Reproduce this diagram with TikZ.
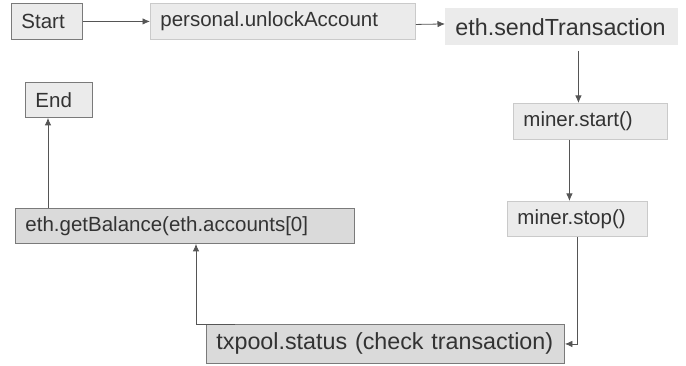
\documentclass[tikz,border=0pt]{standalone}
\usepackage{fontspec}
\setmainfont{Liberation Sans}
\usetikzlibrary{arrows.meta,calc}
\definecolor{darkline}{HTML}{7A7A7A}
\definecolor{lightline}{HTML}{CACACA}
\definecolor{lightfill}{HTML}{EBEBEB}
\definecolor{midfill}{HTML}{DADADA}
\definecolor{txt}{HTML}{333333}
\definecolor{arrcol}{HTML}{555555}
\tikzset{
  box/.style={rectangle, inner xsep=10pt, inner ysep=0pt, anchor=north west, align=left,
    text=txt, fill=lightfill, line width=0.9pt},
  smallfont/.style={font=\fontsize{20.5}{24}\selectfont},
  bigfont/.style={font=\fontsize{23.3}{27}\selectfont},
  darkbox/.style={box, draw=darkline},
  lightbox/.style={box, draw=lightline},
  arr/.style={draw=arrcol, line width=0.8pt, -{Latex[length=7.5pt,width=6.5pt]}}
}
\begin{document}
\begin{tikzpicture}[x=1pt,y=1pt]
\useasboundingbox (0,0) rectangle (686,366);
\node[darkbox, smallfont, minimum width=71pt, minimum height=36pt, text width=51pt] (start) at (11,363) {Start};
\node[lightbox, smallfont, minimum width=265pt, minimum height=36pt, text width=245pt] (unlock) at (150,363) {personal.unlockAccount};
\node[box, bigfont, minimum width=233pt, minimum height=37pt, text width=213pt] (sendtx) at (445,358) {eth.sendTransaction};
\node[lightbox, smallfont, minimum width=154pt, minimum height=36pt, text width=134pt] (minerstart) at (513,263) {miner.start()};
\node[lightbox, smallfont, minimum width=140pt, minimum height=35pt, text width=120pt] (minerstop) at (507,165) {miner.stop()};
\node[darkbox, smallfont, minimum width=67pt, minimum height=35pt, text width=47pt] (end) at (25,284) {End};
\node[darkbox, smallfont, fill=midfill, minimum width=339pt, minimum height=35pt, text width=319pt] (balance) at (15,158) {eth.getBalance(eth.accounts[0]};
\node[darkbox, bigfont, fill=midfill, minimum width=358pt, minimum height=39pt, text width=338pt] (txpool) at (206,42) {txpool.status (check transaction)};

\draw[arr] (start.east) -- (unlock.west);
\draw[arr] ($(unlock.east)+(0,-3)$) -- ($(sendtx.west)+(0,3)$);
\draw[arr] ($(minerstart.north |- sendtx.south)+(-12,-5)$) -- ($(minerstart.north)+(-12,0)$);
\draw[arr] ($(minerstop.north |- minerstart.south)+(-8,0)$) -- ($(minerstop.north)+(-8,0)$);
\draw[arr] (minerstop.south) |- (txpool.east);
\draw[arr] ($(txpool.north west)+(29,0)$) -| ($(balance.south west)+(181,0)$);
\draw[arr] ($(balance.north west)+(33,0)$) -- ($(end.south west)+(23,0)$);
\end{tikzpicture}
\end{document}
